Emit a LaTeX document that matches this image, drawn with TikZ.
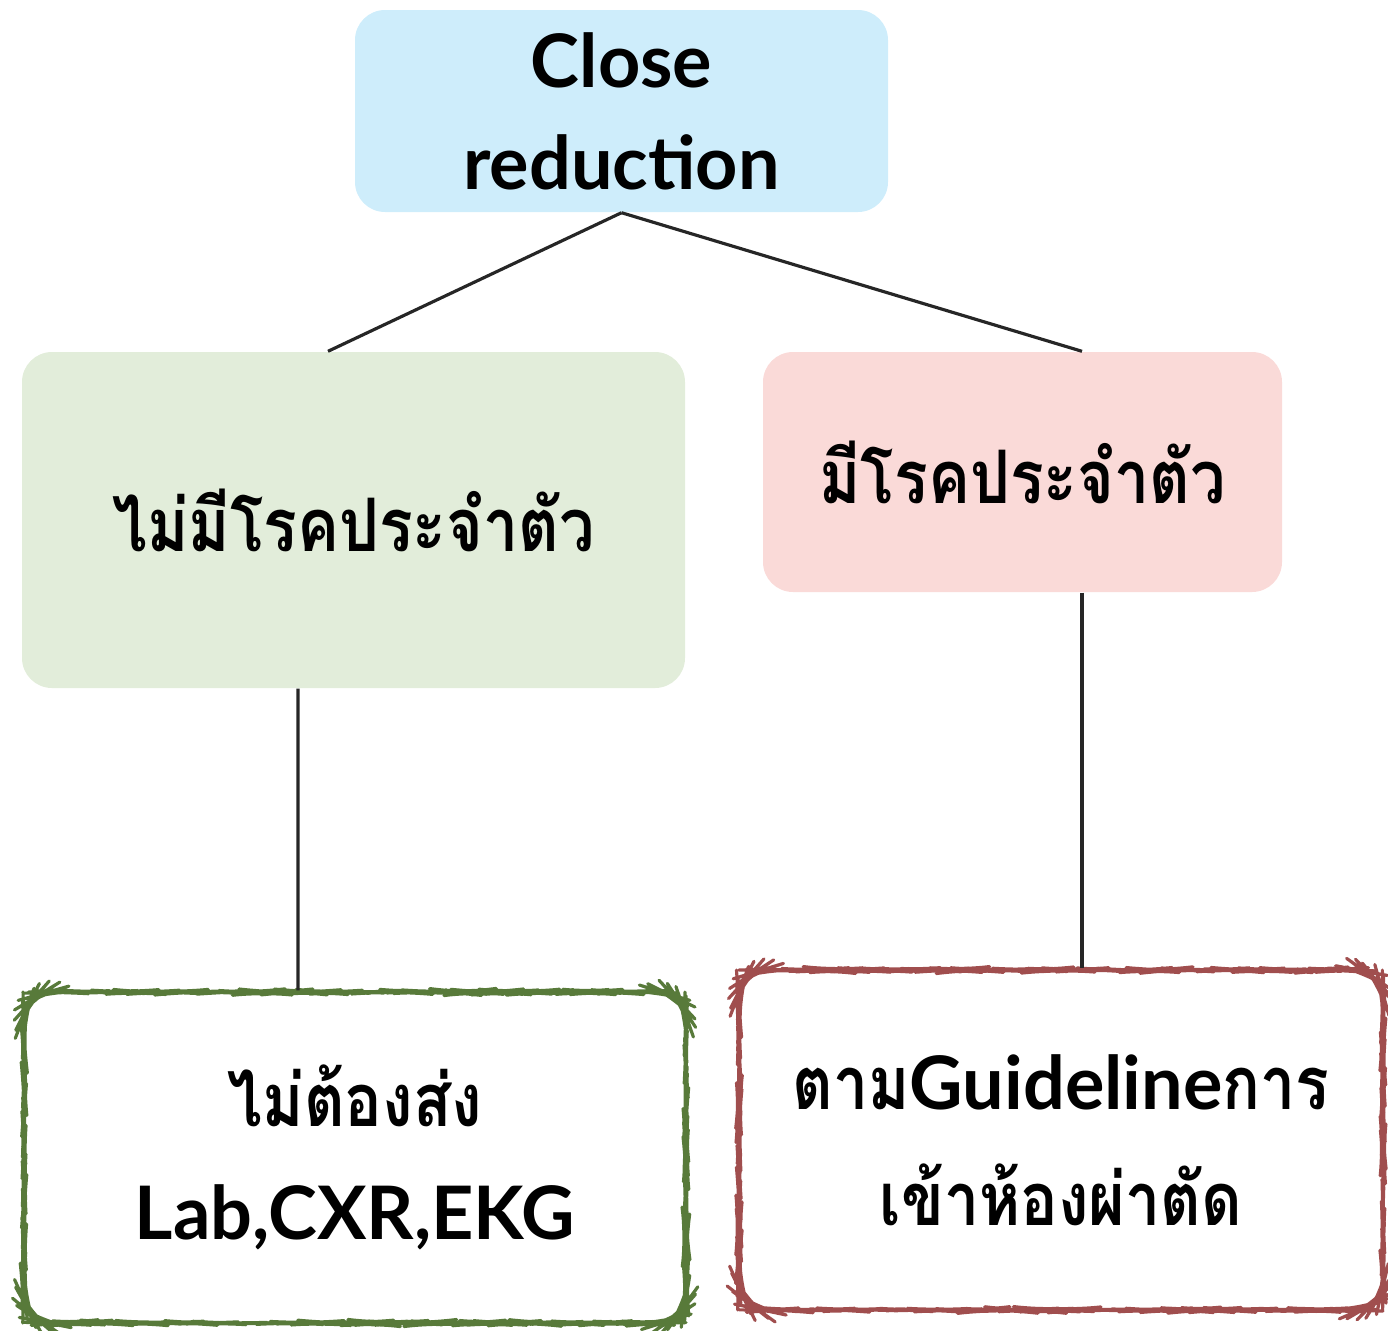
\documentclass[tikz,border=0pt]{standalone}
\usepackage{fontspec}
\setmainfont{Lato}
\newfontfamily\thaifont[Script=Thai,FakeStretch=0.85]{Loma}
\usetikzlibrary{positioning,decorations.pathmorphing}

\definecolor{topblue}{RGB}{206,237,251}
\definecolor{leftgreen}{RGB}{226,237,218}
\definecolor{rightpink}{RGB}{250,218,216}
\definecolor{greenline}{RGB}{88,122,58}
\definecolor{redline}{RGB}{160,78,78}

\begin{document}
\begin{tikzpicture}[every node/.style={rounded corners=0.3cm,align=center,inner sep=0pt},
	box/.style={draw=none},
	roughbox/.style={fill=white,line width=0.9pt,line join=round,decorate,decoration={random steps,segment length=2pt,amplitude=0.15pt}},
	link/.style={line width=0.9pt,draw=black!85}]

		\useasboundingbox (0,0) rectangle (13.88,-13.30);

		%top node
		\node[box,fill=topblue,minimum width=5.33cm,minimum height=2.02cm,
			font=\fontsize{21}{29}\selectfont\bfseries] (cr) at (6.215,-1.11)
			{Close\\ reduction};

		%middle nodes
		\node[box,fill=leftgreen,minimum width=6.63cm,minimum height=3.36cm,
			font=\fontsize{21}{30}\selectfont\thaifont\bfseries] (nd) at (3.535,-5.20)
			{ไม่มีโรคประจำตัว};
		\node[box,fill=rightpink,minimum width=5.19cm,minimum height=2.40cm,
			font=\fontsize{21}{30}\selectfont\thaifont\bfseries] (hd) at (10.225,-4.72)
			{มีโรคประจำตัว};

		%bottom nodes
		\node[roughbox,draw=greenline,minimum width=6.62cm,minimum height=3.31cm,
			font=\fontsize{21}{32}\selectfont\bfseries] (nl) at (3.55,-11.575)
			{{\thaifont ไม่ต้องส่ง}\\ Lab,CXR,EKG};
		\node[roughbox,draw=redline,minimum width=6.44cm,minimum height=3.40cm,
			font=\fontsize{21}{33}\selectfont\bfseries] (gl) at (10.61,-11.40)
			{{\thaifont ตาม}Guideline{\thaifont การ}\\ {\thaifont เข้าห้องผ่าตัด}};

		%edges
		\draw[link] (cr.south) -- ([xshift=-0.255cm]nd.north);
		\draw[link] (cr.south) -- ([xshift=0.595cm]hd.north);
		\draw[link] ([xshift=-0.555cm]nd.south) -- ([xshift=-0.57cm]nl.north);
		\draw[link] ([xshift=0.595cm]hd.south) -- ([xshift=0.21cm]gl.north);

\end{tikzpicture}
\end{document}
